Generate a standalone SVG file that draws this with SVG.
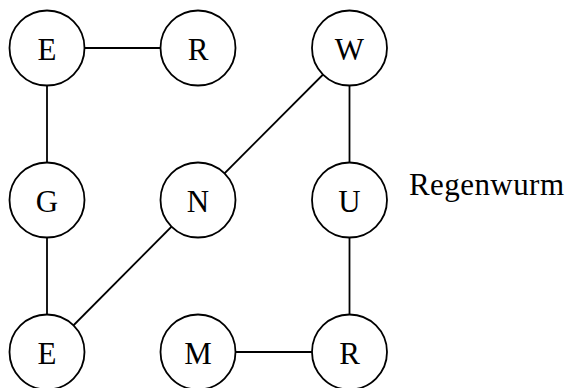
<svg xmlns="http://www.w3.org/2000/svg" width="571" height="388" viewBox="0 0 571 388">
<style>
.n{fill:#fff;stroke:#000;stroke-width:1.8}
.e{stroke:#000;stroke-width:1.8;fill:none}
text{font-family:"Liberation Serif","Times New Roman",serif;font-size:31px;fill:#000}
.l{text-anchor:middle}
</style>
<rect width="571" height="388" fill="#fff"/>
<g id="connectors">
<line class="e" x1="47" y1="48" x2="198" y2="48"/>
<line class="e" x1="47" y1="48" x2="47" y2="200"/>
<line class="e" x1="47" y1="200" x2="47" y2="352"/>
<line class="e" x1="47" y1="352" x2="198" y2="200"/>
<line class="e" x1="198" y1="200" x2="349.5" y2="48"/>
<line class="e" x1="349.5" y1="48" x2="349.5" y2="200"/>
<line class="e" x1="349.5" y1="200" x2="349.5" y2="352"/>
<line class="e" x1="198" y1="352" x2="349.5" y2="352"/>
</g>
<g id="n1"><circle class="n" cx="47" cy="48" r="37.5"/><text class="l" x="47" y="59.5">E</text></g>
<g id="n2"><circle class="n" cx="198" cy="48" r="37.5"/><text class="l" x="198" y="59.5">R</text></g>
<g id="n3"><circle class="n" cx="349.5" cy="48" r="37.5"/><text class="l" x="349.5" y="59.5">W</text></g>
<g id="n4"><circle class="n" cx="47" cy="200" r="37.5"/><text class="l" x="47" y="211.5">G</text></g>
<g id="n5"><circle class="n" cx="198" cy="200" r="37.5"/><text class="l" x="198" y="211.5">N</text></g>
<g id="n6"><circle class="n" cx="349.5" cy="200" r="37.5"/><text class="l" x="349.5" y="211.5">U</text></g>
<g id="n7"><circle class="n" cx="47" cy="352" r="37.5"/><text class="l" x="47" y="363.5">E</text></g>
<g id="n8"><circle class="n" cx="198" cy="352" r="37.5"/><text class="l" x="198" y="363.5">M</text></g>
<g id="n9"><circle class="n" cx="349.5" cy="352" r="37.5"/><text class="l" x="349.5" y="363.5">R</text></g>
<g id="label"><text x="409" y="195" textLength="155" lengthAdjust="spacing">Regenwurm</text></g>
</svg>
